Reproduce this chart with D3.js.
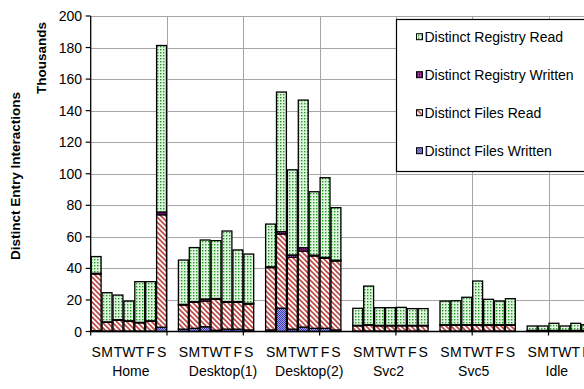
<!DOCTYPE html>
<html><head><meta charset="utf-8">
<script src="https://cdnjs.cloudflare.com/ajax/libs/d3/7.8.5/d3.min.js"></script>
<style>
html,body{margin:0;padding:0;background:#fff;}
svg{display:block;font-family:"Liberation Sans",Arial,sans-serif;}
</style></head>
<body>
<svg id="chart" width="584" height="389"></svg>
<script>
// ---------- DATA (thousands) ----------
const groups = ["Home", "Desktop(1)", "Desktop(2)", "Svc2", "Svc5", "Idle"];
const days = ["S", "M", "T", "W", "T", "F", "S"];
const yTicks = [0, 20, 40, 60, 80, 100, 120, 140, 160, 180, 200];
const seriesNames = ["Distinct Files Written", "Distinct Files Read", "Distinct Registry Written", "Distinct Registry Read"];

const filesWritten = [
  [0.5, 0.3, 0.3, 0.3, 0.3, 0.3, 2.7],
  [1.5, 2.0, 3.0, 0.8, 1.5, 1.5, 1.0],
  [1.0, 14.8, 1.5, 2.8, 2.0, 2.0, 1.0],
  [0.3, 0.3, 0.3, 0.3, 0.3, 0.3, 0.3],
  [0.3, 0.3, 0.3, 0.3, 0.3, 0.3, 0.3],
  [0.1, 0.1, 0.1, 0.1, 0.1, 0.1, 0.1]
];
const filesRead = [
  [36.0, 5.5, 6.9, 6.2, 5.2, 6.2, 71.3],
  [15.3, 16.5, 16.3, 19.6, 17.0, 17.0, 16.4],
  [39.5, 47.0, 45.5, 48.2, 45.9, 44.4, 43.7],
  [3.3, 3.7, 3.3, 3.3, 3.3, 3.3, 3.3],
  [3.7, 3.7, 3.7, 3.7, 3.7, 3.7, 3.7],
  [0.5, 0.5, 0.5, 0.5, 0.5, 0.5, 0.5]
];
const registryWritten = [
  [0.4, 0.3, 0.3, 0.3, 0.3, 0.3, 1.7],
  [0.4, 0.5, 1.3, 0.5, 0.5, 0.5, 0.5],
  [0.5, 1.5, 1.5, 2.1, 0.5, 0.6, 0.5],
  [0.3, 0.3, 0.3, 0.3, 0.3, 0.3, 0.3],
  [0.3, 0.3, 0.3, 0.3, 0.3, 0.3, 0.3],
  [0.1, 0.1, 0.1, 0.1, 0.1, 0.1, 0.1]
];
const registryRead = [
  [10.6, 18.5, 15.6, 12.5, 25.8, 24.8, 105.6],
  [28.1, 34.2, 37.4, 36.7, 44.7, 32.7, 31.2],
  [27.1, 88.5, 54.0, 93.6, 40.2, 50.5, 33.3],
  [10.8, 24.5, 11.2, 11.2, 11.4, 10.6, 10.6],
  [15.0, 15.2, 17.4, 27.7, 16.1, 15.0, 16.5],
  [2.8, 2.8, 4.5, 2.8, 4.5, 3.6, 3.3]
];
// ---------- LAYOUT ----------
const groupLabelNudge = [2, 7, 6, -2, -4, -8];
const slotsPerGroup = 8; // 7 days + one empty slot
const plotLeft = 90.7, slotW = 10.9, plotTop = 16, plotBottom = 331.5;

const svg = d3.select("#chart");
const defs = svg.append("defs");

// patterns
const pGreen = defs.append("pattern").attr("id", "pGreen").attr("patternUnits", "userSpaceOnUse")
  .attr("width", 3).attr("height", 3);
pGreen.append("rect").attr("width", 3).attr("height", 3).attr("fill", "#e0f5e0");
pGreen.append("rect").attr("x", 1).attr("y", 1).attr("width", 1.4).attr("height", 1.4).attr("fill", "#1f9a1f");

const pRed = defs.append("pattern").attr("id", "pRed").attr("patternUnits", "userSpaceOnUse")
  .attr("width", 5).attr("height", 5);
pRed.append("rect").attr("width", 5).attr("height", 5).attr("fill", "#ffffff");
pRed.append("path").attr("d", "M-1,-1 L6,6 M-1,4 L1,6 M4,-1 L6,1")
  .attr("stroke", "#bf4a47").attr("stroke-width", 1.7);

const pBlue = defs.append("pattern").attr("id", "pBlue").attr("patternUnits", "userSpaceOnUse")
  .attr("width", 2).attr("height", 2);
pBlue.append("rect").attr("width", 2).attr("height", 2).attr("fill", "#a0a0ee");
pBlue.append("rect").attr("width", 1).attr("height", 1).attr("fill", "#3c3cb4");
pBlue.append("rect").attr("x", 1).attr("y", 1).attr("width", 1).attr("height", 1).attr("fill", "#3c3cb4");

const pPurple = defs.append("pattern").attr("id", "pPurple").attr("patternUnits", "userSpaceOnUse")
  .attr("width", 2).attr("height", 2);
pPurple.append("rect").attr("width", 2).attr("height", 2).attr("fill", "#800080");
pPurple.append("rect").attr("width", 1).attr("height", 1).attr("fill", "#d070d0");

const fills = ["url(#pBlue)", "url(#pRed)", "url(#pPurple)", "url(#pGreen)"];
const seriesData = [filesWritten, filesRead, registryWritten, registryRead];

// scales
const catDomain = [];
groups.forEach((g, gi) => {
  for (let s = 0; s < slotsPerGroup; s++) catDomain.push(gi + "-" + s);
});
const x = d3.scaleBand().domain(catDomain)
  .range([plotLeft, plotLeft + catDomain.length * slotW]).paddingInner(0).paddingOuter(0);
const y = d3.scaleLinear().domain([0, 200]).range([plotBottom, plotTop]);

// gridlines horizontal
svg.append("g").selectAll("line").data(yTicks.filter(t => t > 0)).join("line")
  .attr("x1", plotLeft).attr("x2", 584)
  .attr("y1", d => Math.round(y(d)) + 0.5).attr("y2", d => Math.round(y(d)) + 0.5)
  .attr("stroke", "#a6a6a6").attr("stroke-width", 1);

// vertical gridlines / ticks every 7 categories
const tickIdx = d3.range(0, catDomain.length, 7);
const tickX = tickIdx.map(i => x(catDomain[i]));
svg.append("g").selectAll("line").data(tickX.slice(1)).join("line")
  .attr("x1", d => Math.round(d) + 0.5).attr("x2", d => Math.round(d) + 0.5)
  .attr("y1", plotTop).attr("y2", plotBottom)
  .attr("stroke", "#a6a6a6").attr("stroke-width", 1);

// stacked bars
const rows = [];
groups.forEach((g, gi) => {
  days.forEach((d, di) => {
    const row = { key: gi + "-" + di };
    seriesData.forEach((s, si) => row[si] = s[gi][di]);
    rows.push(row);
  });
});
const stack = d3.stack().keys([0, 1, 2, 3]);
const stacked = stack(rows);
svg.append("g").selectAll("g").data(stacked).join("g")
  .attr("fill", (d, i) => fills[i])
  .selectAll("rect").data(d => d).join("rect")
  .attr("x", d => x(d.data.key) + 0.5)
  .attr("width", x.bandwidth() - 1)
  .attr("y", d => y(d[1]))
  .attr("height", d => Math.max(0, y(d[0]) - y(d[1])))
  .attr("stroke", "#000").attr("stroke-width", 1.3);

// axes lines
svg.append("line").attr("x1", plotLeft).attr("x2", plotLeft).attr("y1", plotTop).attr("y2", plotBottom + 0.5)
  .attr("stroke", "#000").attr("stroke-width", 1.3);
svg.append("line").attr("x1", plotLeft).attr("x2", 584).attr("y1", plotBottom).attr("y2", plotBottom)
  .attr("stroke", "#000").attr("stroke-width", 1.3);

// y ticks + labels
const yAxis = svg.append("g");
yAxis.selectAll("line").data(yTicks).join("line")
  .attr("x1", plotLeft - 5).attr("x2", plotLeft)
  .attr("y1", d => y(d)).attr("y2", d => y(d)).attr("stroke", "#000").attr("stroke-width", 1.2);
yAxis.selectAll("text").data(yTicks).join("text")
  .attr("x", 82).attr("y", d => y(d)).attr("dy", "0.36em")
  .attr("text-anchor", "end").attr("font-size", "14px").attr("fill", "#000")
  .text(d => d);

// x ticks
svg.append("g").selectAll("line").data(tickX).join("line")
  .attr("x1", d => d).attr("x2", d => d).attr("y1", plotBottom).attr("y2", plotBottom + 4)
  .attr("stroke", "#000").attr("stroke-width", 1.2);

// day labels
svg.append("g").selectAll("text").data(rows).join("text")
  .attr("x", d => x(d.key) + x.bandwidth() / 2).attr("y", 356.5)
  .attr("text-anchor", "middle").attr("font-size", "14px").attr("fill", "#000")
  .text(d => days[+d.key.split("-")[1]]);

// group labels
svg.append("g").selectAll("text").data(groups).join("text")
  .attr("x", (g, gi) => (x(gi + "-0") + x(gi + "-6") + x.bandwidth()) / 2 + groupLabelNudge[gi])
  .attr("y", 376).attr("text-anchor", "middle").attr("font-size", "14px").attr("fill", "#000")
  .text(g => g);

// axis titles
svg.append("text").attr("transform", "translate(41,58) rotate(-90)").attr("dy", "0.36em")
  .attr("text-anchor", "middle").attr("font-size", "13.5px").attr("font-weight", "bold")
  .text("Thousands");
svg.append("text").attr("transform", "translate(15,176) rotate(-90)").attr("dy", "0.36em")
  .attr("text-anchor", "middle").attr("font-size", "13.5px").attr("font-weight", "bold")
  .text("Distinct Entry Interactions");

// legend
const legend = svg.append("g");
legend.append("rect").attr("x", 396.5).attr("y", 19.5).attr("width", 200).attr("height", 152)
  .attr("fill", "#fff").attr("stroke", "#000").attr("stroke-width", 1.2);
const legendOrder = [3, 2, 1, 0];
const li = legend.selectAll("g.item").data(legendOrder).join("g").attr("class", "item")
  .attr("transform", (d, i) => `translate(0,${36.7 + i * 38})`);
li.append("rect").attr("x", 416.5).attr("y", -3).attr("width", 6).attr("height", 6)
  .attr("fill", d => fills[d]).attr("stroke", "#000").attr("stroke-width", 1);
li.append("text").attr("x", 424.5).attr("y", 0).attr("dy", "0.36em")
  .attr("font-size", "14px").attr("fill", "#000").text(d => seriesNames[d]);
</script>
</body></html>
